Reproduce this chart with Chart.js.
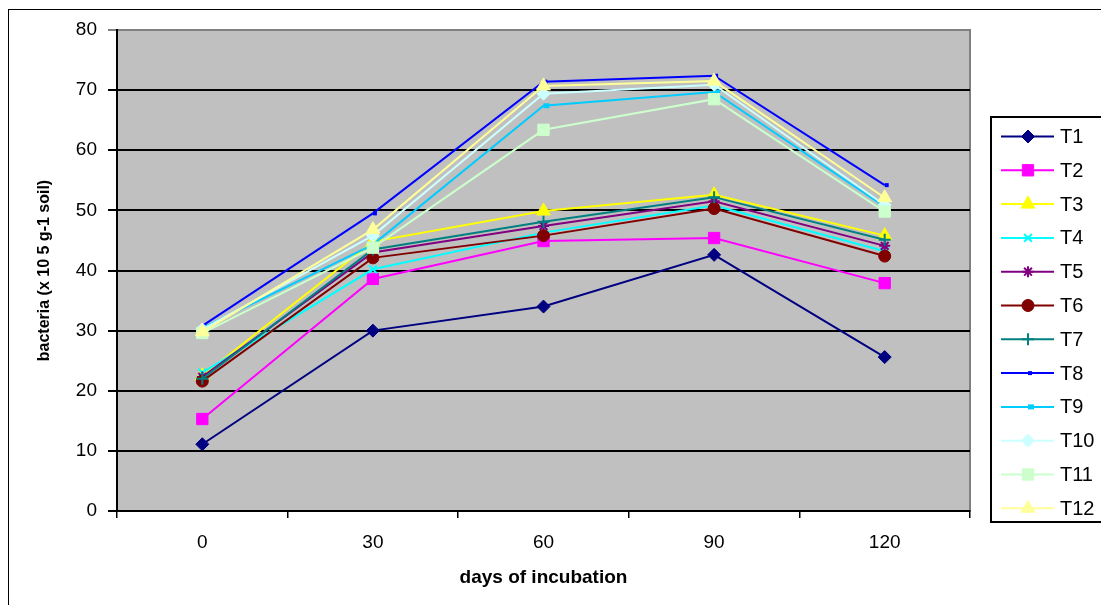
<!DOCTYPE html>
<html>
<head>
<meta charset="utf-8">
<script src="https://cdn.jsdelivr.net/npm/chart.js"></script>
<style>
  body { margin: 0; background: #fff; }
  #wrap { width: 1101px; height: 605px; }
</style>
</head>
<body>
<div id="wrap"><canvas id="chart" width="1101" height="605"></canvas></div>
<script>
const days = ['0', '30', '60', '90', '120'];
const seriesNames = ['T1', 'T2', 'T3', 'T4', 'T5', 'T6', 'T7', 'T8', 'T9', 'T10', 'T11', 'T12'];

const t1 = [11.1, 30.0, 34.0, 42.6, 25.6];
const t2 = [15.3, 38.6, 44.9, 45.4, 37.9];
const t3 = [22.5, 44.8, 49.9, 52.6, 45.8];
const t4 = [23.0, 40.2, 46.3, 50.8, 43.2];
const t5 = [22.3, 43.0, 47.4, 51.5, 44.1];
const t6 = [21.6, 42.1, 45.8, 50.3, 42.4];
const t7 = [22.0, 43.5, 48.1, 52.2, 45.1];
const t8 = [30.8, 49.5, 71.4, 72.4, 54.2];
const t9 = [30.4, 44.3, 67.4, 69.7, 50.6];
const t10 = [30.2, 45.8, 69.4, 70.9, 50.9];
const t11 = [29.6, 43.8, 63.4, 68.5, 49.8];
const t12 = [29.8, 46.8, 70.7, 71.5, 52.1];

const seriesValues = [t1, t2, t3, t4, t5, t6, t7, t8, t9, t10, t11, t12];
const colors = ['#000080', '#FF00FF', '#FFFF00', '#00FFFF', '#800080', '#800000',
                '#008080', '#0000FF', '#00CCFF', '#CCFFFF', '#CCFFCC', '#FFFF99'];
const markers = ['rectRot', 'rect', 'triangle', 'crossRot', 'star', 'circle',
                 'cross', 'dash', 'dash', 'rectRot', 'rect', 'triangle'];
const markerSize = [6.5, 8, 8, 5.5, 5.5, 6, 6, 4, 6, 6.5, 8, 8];
const markerBorder = [1, 1, 1, 2, 2, 1, 2, 4, 5, 1, 1, 1];

const font = "'Liberation Sans', Arial, sans-serif";

const datasets = seriesNames.map((name, i) => ({
    label: name,
    data: seriesValues[i],
    borderColor: colors[i],
    backgroundColor: colors[i],
    borderWidth: 2,
    pointStyle: markers[i],
    pointRadius: markerSize[i],
    pointHoverRadius: markerSize[i],
    pointBackgroundColor: colors[i],
    pointBorderColor: colors[i],
    pointBorderWidth: markerBorder[i],
    order: seriesNames.length - 1 - i,
    tension: 0,
    fill: false
}));

const framePlugin = {
    id: 'frame',
    beforeDraw(chart) {
        const ctx = chart.ctx;
        const a = chart.chartArea;
        ctx.save();
        ctx.fillStyle = '#fff';
        ctx.fillRect(0, 0, chart.width, chart.height);
        ctx.strokeStyle = '#000';
        ctx.lineWidth = 1;
        ctx.strokeRect(8.5, 9.5, 1200, 700);
        ctx.fillStyle = '#C0C0C0';
        ctx.fillRect(a.left, a.top, a.right - a.left, a.bottom - a.top);
        ctx.strokeStyle = '#808080';
        ctx.lineWidth = 2;
        ctx.strokeRect(a.left, a.top, a.right - a.left, a.bottom - a.top);
        ctx.restore();
    },
    afterDraw(chart) {
        const ctx = chart.ctx;
        ctx.save();
        ctx.strokeStyle = '#000';
        ctx.lineWidth = 2;
        ctx.strokeRect(991, 117, 130, 405);
        seriesNames.forEach((name, i) => {
            const y = 136.5 + i * 33.8;
            ctx.strokeStyle = colors[i];
            ctx.lineWidth = 2;
            ctx.beginPath();
            ctx.moveTo(1001, y);
            ctx.lineTo(1054, y);
            ctx.stroke();
            ctx.fillStyle = colors[i];
            ctx.strokeStyle = colors[i];
            ctx.lineWidth = markerBorder[i];
            Chart.helpers.drawPoint(ctx, {
                pointStyle: markers[i],
                rotation: 0,
                radius: markerSize[i],
                borderWidth: markerBorder[i]
            }, 1028, y);
            ctx.fillStyle = '#000';
            ctx.font = '20px ' + font;
            ctx.textBaseline = 'middle';
            ctx.textAlign = 'left';
            ctx.fillText(name, 1060, y + 1);
        });
        ctx.restore();
    }
};

new Chart(document.getElementById('chart'), {
    type: 'line',
    data: { labels: days, datasets: datasets },
    options: {
        responsive: false,
        animation: false,
        layout: { padding: { left: 0, top: 30, right: 131, bottom: 0 } },
        plugins: {
            legend: { display: false },
            tooltip: { enabled: false }
        },
        scales: {
            x: {
                type: 'category',
                offset: true,
                afterFit(scale) { scale.height = 94; },
                border: { color: '#000', width: 2 },
                grid: {
                    offset: true,
                    drawOnChartArea: false,
                    tickLength: 7,
                    color: '#000',
                    lineWidth: 1.5
                },
                ticks: {
                    color: '#000',
                    padding: 13,
                    font: { family: font, size: 19 }
                },
                title: {
                    display: true,
                    text: 'days of incubation',
                    color: '#000',
                    padding: { top: 0, bottom: 16 },
                    font: { family: font, size: 19, weight: 'bold' }
                }
            },
            y: {
                min: 0,
                max: 80,
                afterFit(scale) { scale.width = 117; },
                border: { color: '#000', width: 2 },
                grid: {
                    color: ctx => (ctx.tick && ctx.tick.value === 80) ? '#808080' : '#000',
                    lineWidth: 2,
                    tickLength: 9
                },
                ticks: {
                    stepSize: 10,
                    color: '#000',
                    padding: 11,
                    font: { family: font, size: 19 }
                },
                title: {
                    display: true,
                    text: 'bacteria (x 10 5 g-1 soil)',
                    color: '#000',
                    padding: { top: 35, bottom: 0 },
                    font: { family: font, size: 16, weight: 'bold' }
                }
            }
        }
    },
    plugins: [framePlugin]
});
</script>
</body>
</html>
